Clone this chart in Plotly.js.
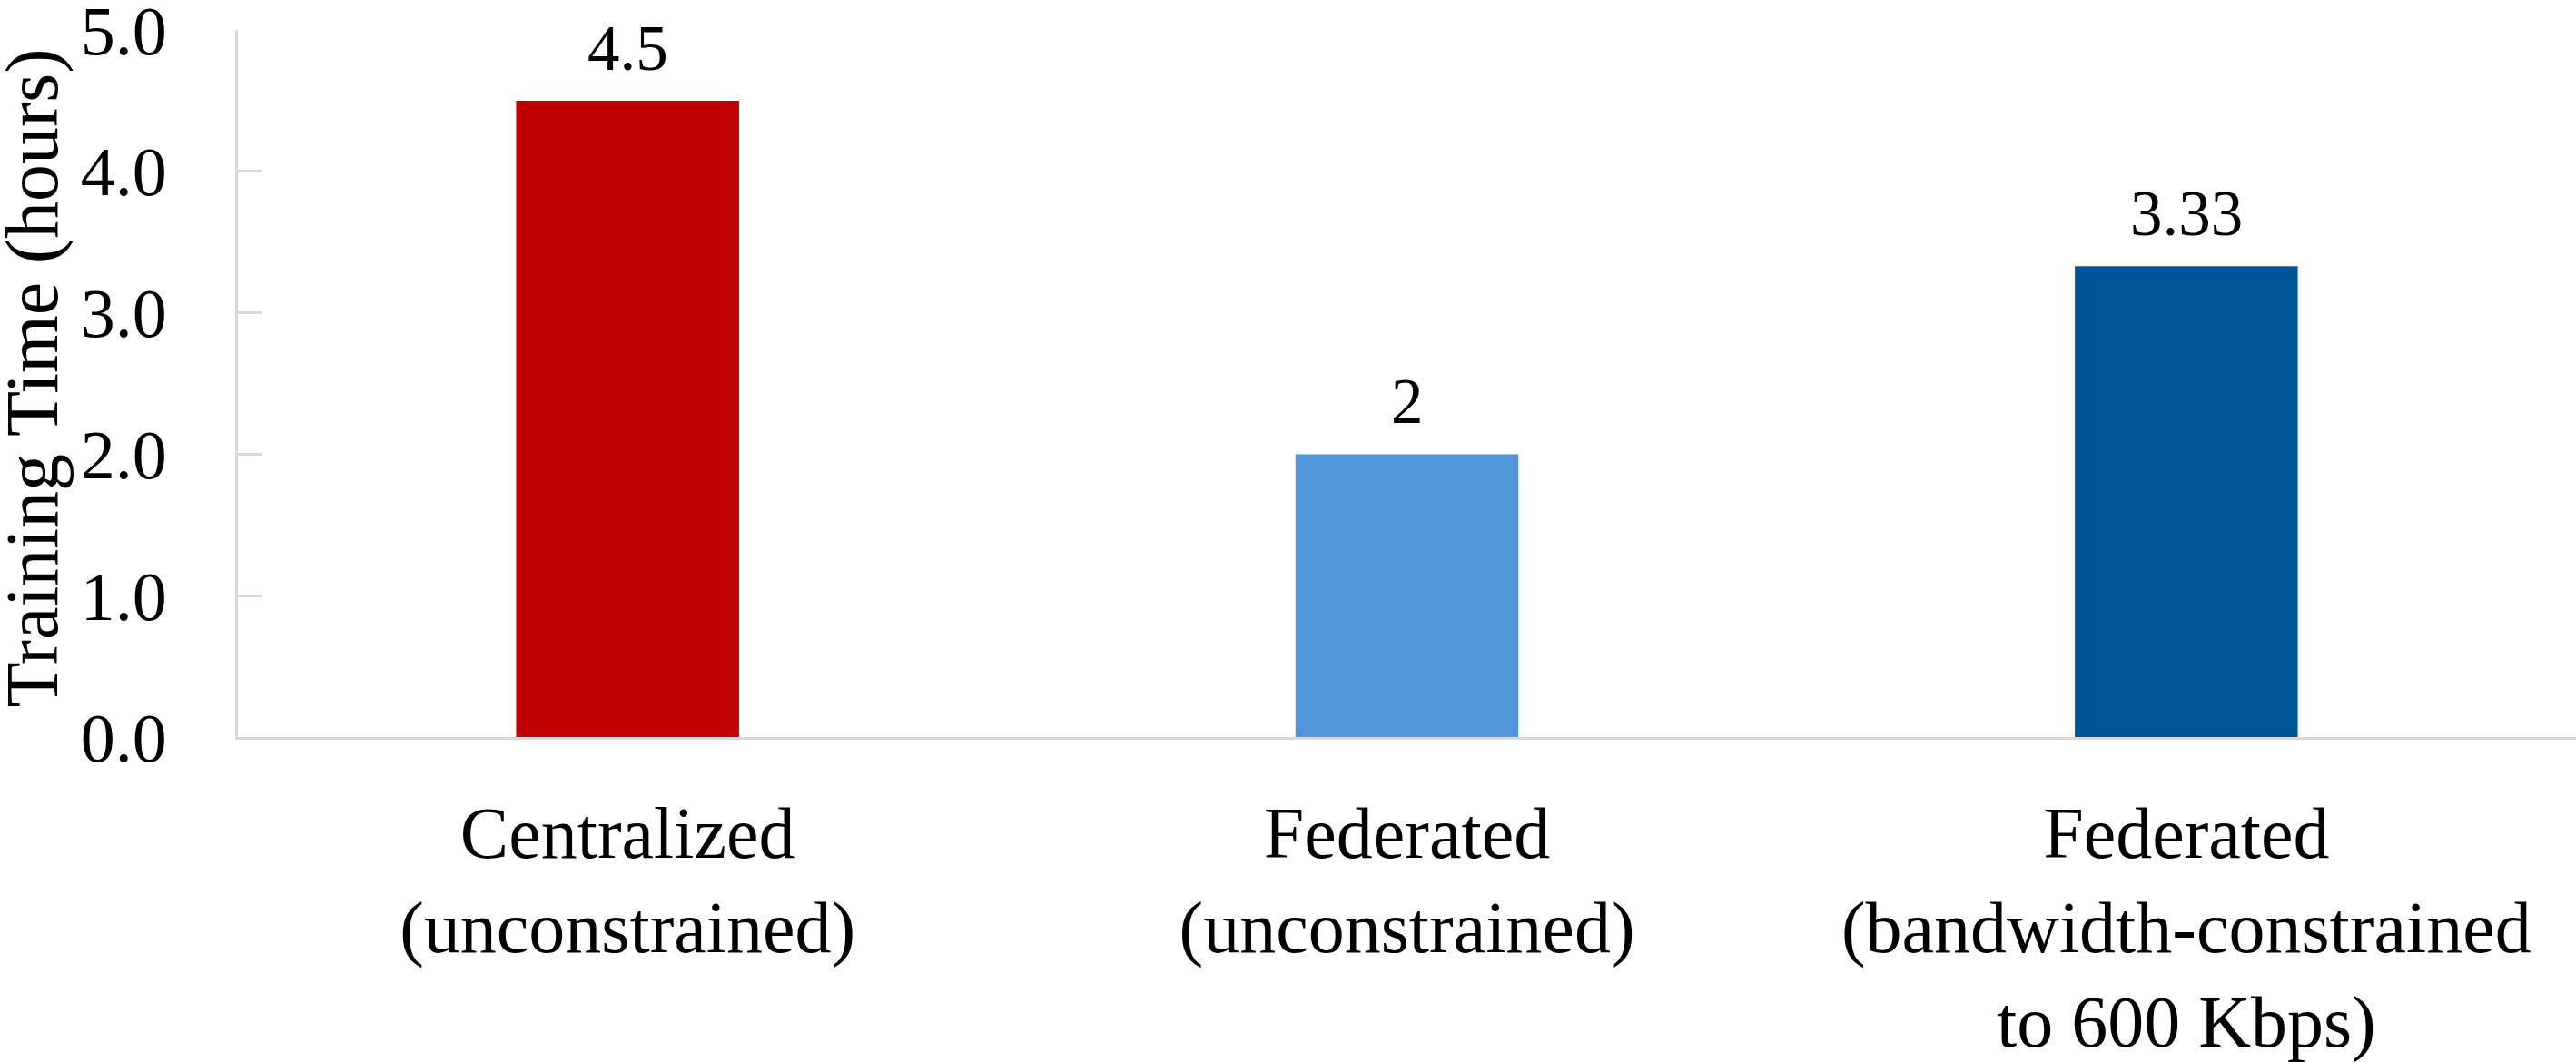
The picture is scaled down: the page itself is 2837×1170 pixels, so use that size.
<!DOCTYPE html>
<html>
<head>
<meta charset="utf-8">
<script src="https://cdn.plot.ly/plotly-3.0.1.min.js"></script>
<style>html,body{margin:0;padding:0;background:#fff;}#chart{width:2837px;height:1170px;}</style>
</head>
<body>
<div id="chart"></div>
<script>
const categories = [
  "Centralized<br>(unconstrained)",
  "Federated<br>(unconstrained)",
  "Federated<br>(bandwidth-constrained<br>to 600 Kbps)"
];
const trainingHours = [4.5, 2, 3.33];
const valueLabels = ["4.5", "2", "3.33"];
const barColors = ["#C00000", "#5096D9", "#005596"];
const yTickVals = [0, 1, 2, 3, 4, 5];
const yTickText = ["0.0", "1.0", "2.0", "3.0", "4.0", "5.0"];
const yAxisTitle = "Training Time (hours)";

const FONT = "'Liberation Serif', 'DejaVu Serif', serif";

const trace = {
  type: "bar",
  x: categories,
  y: trainingHours,
  marker: { color: barColors, line: { width: 0 } },
  hoverinfo: "none"
};

const annotations = categories.map((c, i) => ({
  x: c, y: trainingHours[i], xref: "x", yref: "y",
  text: valueLabels[i], showarrow: false,
  yanchor: "bottom", yshift: 17,
  font: { family: FONT, size: 71, color: "#000" }
}));

annotations.push({
  xref: "paper", yref: "paper", x: 0, y: 0.5,
  xanchor: "center", yanchor: "middle",
  xshift: -227, yshift: 6,
  textangle: -90, showarrow: false,
  text: yAxisTitle,
  font: { family: FONT, size: 82, color: "#000" }
});

const layout = {
  width: 2837, height: 1170,
  margin: { l: 262, r: 0, t: 33, b: 358, pad: 0 },
  paper_bgcolor: "#fff", plot_bgcolor: "#fff",
  showlegend: false,
  bargap: 0.714,
  font: { family: FONT, color: "#000" },
  xaxis: {
    type: "category",
    showgrid: false, zeroline: false,
    showline: true, linecolor: "#D9D9D9", linewidth: 3,
    ticks: "", ticklabelstandoff: 34,
    tickfont: { family: FONT, size: 80, color: "#000" },
    automargin: false, fixedrange: true
  },
  yaxis: {
    range: [0, 5],
    tickvals: yTickVals, ticktext: yTickText,
    showgrid: false, zeroline: false,
    showline: true, linecolor: "#D9D9D9", linewidth: 3,
    ticks: "inside", ticklen: 26, tickwidth: 3, tickcolor: "#D9D9D9",
    ticklabelstandoff: 60, ticklabeloverflow: "allow",
    tickfont: { family: FONT, size: 76, color: "#000" },
    automargin: false, fixedrange: true
  },
  annotations: annotations
};

Plotly.newPlot("chart", [trace], layout, { staticPlot: true, displayModeBar: false });
</script>
</body>
</html>
